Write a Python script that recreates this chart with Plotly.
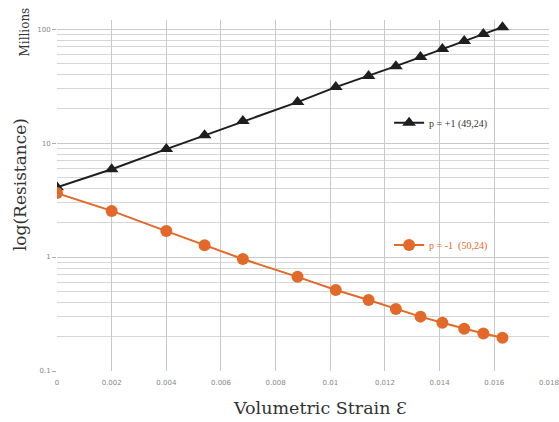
import plotly.graph_objects as go

# Volumetric strain values (shared by both series)
strain = [0, 0.002, 0.004, 0.0054, 0.0068, 0.0088, 0.0102, 0.0114, 0.0124,
          0.0133, 0.0141, 0.0149, 0.0156, 0.0163]

# Resistance (millions) for p = +1 (black triangles)
res_pos = [4.1, 5.9, 8.85, 11.7, 15.6, 22.9, 31.0, 38.7, 47.3, 56.8, 66.8, 78.5, 90.4, 104.0]

# Resistance (millions) for p = -1 (orange circles)
res_neg = [3.64, 2.54, 1.69, 1.27, 0.96, 0.67, 0.514, 0.42, 0.35, 0.30, 0.265, 0.235, 0.213, 0.196]

label_pos = "p = +1 (49,24)"
label_neg = "p = -1  (50,24)"

x_ticks = [0, 0.002, 0.004, 0.006, 0.008, 0.01, 0.012, 0.014, 0.016, 0.018]

ORANGE = "#E2692A"
BLACK = "#1e1e1e"
SERIF = "DejaVu Serif, Liberation Serif, serif"

fig = go.Figure()
fig.add_trace(go.Scatter(
    x=strain, y=res_pos, mode="lines+markers", name=label_pos,
    line=dict(color=BLACK, width=2),
    marker=dict(symbol="triangle-up", size=12, color=BLACK),
    legend="legend", showlegend=True,
))
fig.add_trace(go.Scatter(
    x=strain, y=res_neg, mode="lines+markers", name=label_neg,
    line=dict(color=ORANGE, width=2),
    marker=dict(symbol="circle", size=12, color=ORANGE),
    legend="legend2", showlegend=True,
))

fig.update_layout(
    width=559, height=422,
    margin=dict(l=57, r=10, t=20, b=51, autoexpand=False),
    paper_bgcolor="white", plot_bgcolor="white",
    font=dict(family=SERIF, color="#333"),
    showlegend=True,
    legend=dict(x=0.675, y=0.707, xanchor="left", yanchor="middle",
                bgcolor="rgba(255,255,255,0)",
                font=dict(size=10, color="#333", family="Liberation Serif, serif"),
                itemwidth=30, visible=True),
    legend2=dict(x=0.675, y=0.359, xanchor="left", yanchor="middle",
                 bgcolor="rgba(255,255,255,0)",
                 font=dict(size=10, color=ORANGE, family="Liberation Serif, serif"),
                 itemwidth=30, visible=True),
)

fig.update_xaxes(
    range=[0, 0.018002], tickvals=x_ticks, ticktext=[f"{v:g}" for v in x_ticks],
    showgrid=True, gridcolor="#c9c9c9", gridwidth=1,
    zeroline=False, showline=False, automargin=False,
    tickfont=dict(size=7, color="#888", family="DejaVu Sans"),
    ticks="", ticklabelstandoff=6,
)
fig.update_yaxes(
    type="log", range=[-1, 2.08], dtick=1,
    showgrid=True, gridcolor="#c9c9c9", gridwidth=1,
    minor=dict(dtick="D1", showgrid=True, gridcolor="#d6d6d6", gridwidth=1, ticks=""),
    zeroline=False, showline=False, automargin=False,
    tickfont=dict(size=7, color="#888", family="DejaVu Sans"),
    ticks="outside", ticklen=4, tickcolor="#aaa",
)

fig.add_annotation(text="log(Resistance)", xref="paper", yref="paper",
                   x=-0.075, y=0.53, xanchor="center", yanchor="middle", textangle=-90,
                   showarrow=False, font=dict(size=17, color="#333", family=SERIF))
fig.add_annotation(text="Millions", xref="paper", yref="paper",
                   x=-0.065, y=1.04, xanchor="center", yanchor="top", textangle=-90,
                   showarrow=False, font=dict(size=12, color="#333", family=SERIF))
fig.add_annotation(text="Volumetric Strain Ɛ", xref="paper", yref="paper",
                   x=0.535, y=-0.105, xanchor="center", yanchor="middle",
                   showarrow=False, font=dict(size=17.5, color="#333", family=SERIF))

fig.write_html("out.html", config={"displayModeBar": False},
               post_script="document.body.style.margin='0px';")
